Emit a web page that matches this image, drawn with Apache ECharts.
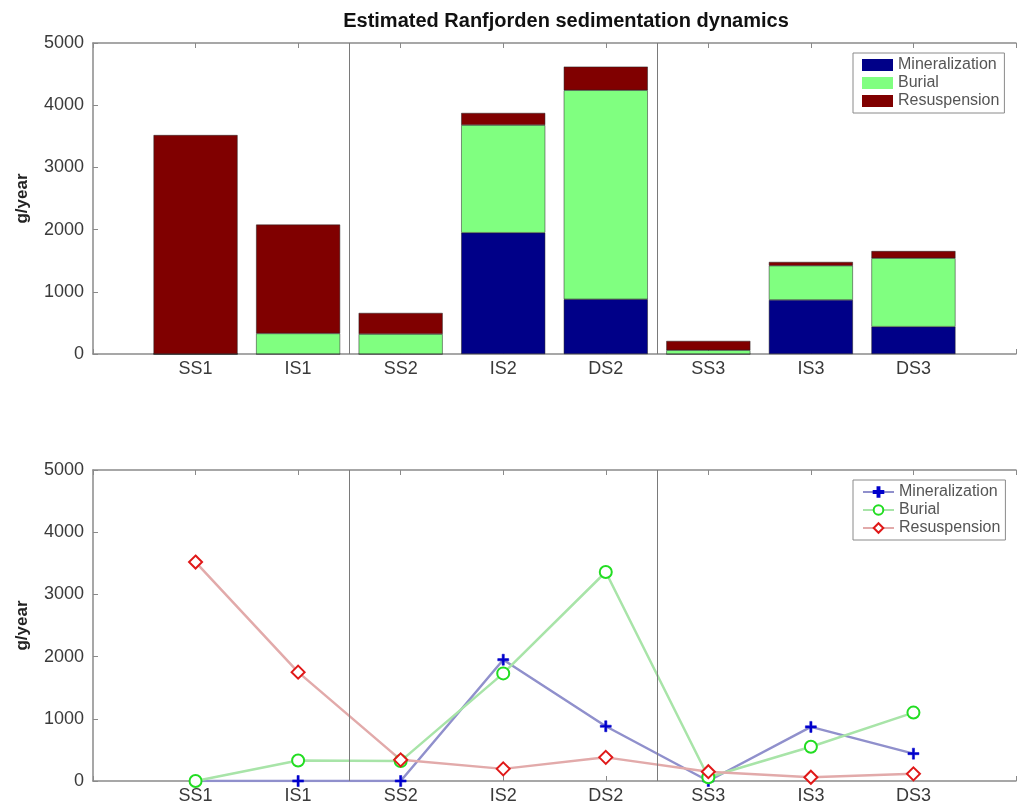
<!DOCTYPE html>
<html>
<head>
<meta charset="utf-8">
<script src="https://cdn.jsdelivr.net/npm/echarts@6/dist/echarts.min.js"></script>
<style>
html,body{margin:0;padding:0;background:#fff;}
#chart{width:1019px;height:811px;}
</style>
</head>
<body>
<div id="chart"></div>
<script>
// ---- data ----
var categories = ['SS1', 'IS1', 'SS2', 'IS2', 'DS2', 'SS3', 'IS3', 'DS3'];
var mineralization = [0, 0, 0, 1950, 880, 0, 870, 440];
var burial = [0, 330, 320, 1730, 3360, 60, 550, 1100];
var resuspension = [3520, 1750, 340, 195, 380, 150, 60, 115];
var seriesNames = ['Mineralization', 'Burial', 'Resuspension'];
var yTicks = [0, 1000, 2000, 3000, 4000, 5000];
var separators = [2.5, 5.5];
var titleText = 'Estimated Ranfjorden sedimentation dynamics';
var yName = 'g/year';

// ---- helpers ----
// MATLAB-style x limits [0, n+1]: pad one empty slot on each side
var cats = [''].concat(categories).concat(['']);
function padded(arr) { return ['-'].concat(arr).concat(['-']); }
var FONT = "'Liberation Sans', Arial, Helvetica, sans-serif";
var axisGrey = '#8a8a8a';
var labelColor = '#3a3a3a';

function xAxisCfg(gridIndex) {
  return {
    type: 'category', gridIndex: gridIndex, data: cats, boundaryGap: false,
    axisLine: { show: true, lineStyle: { color: axisGrey, width: 1.5 } },
    axisTick: { show: true, inside: true, length: 5, interval: 0, lineStyle: { color: axisGrey } },
    splitLine: { show: false },
    axisLabel: { margin: 6, interval: 0, color: labelColor, fontFamily: FONT, fontSize: 18 }
  };
}
function xAxisTop(gridIndex) {
  return {
    type: 'value', gridIndex: gridIndex, position: 'top', min: 0, max: categories.length + 1, interval: 1,
    axisLine: { show: true, lineStyle: { color: axisGrey, width: 1.5 } },
    axisTick: { show: true, inside: true, length: 5, lineStyle: { color: axisGrey } },
    splitLine: { show: false }, axisLabel: { show: false }
  };
}
function yAxisCfg(gridIndex) {
  return {
    type: 'value', gridIndex: gridIndex, min: yTicks[0], max: yTicks[yTicks.length - 1], interval: 1000,
    name: yName, nameLocation: 'middle', nameRotate: 90, nameGap: 62,
    nameTextStyle: { fontFamily: FONT, fontSize: 17, fontWeight: 'bold', color: '#222' },
    axisLine: { show: true, lineStyle: { color: axisGrey, width: 1.5 } },
    axisTick: { show: true, inside: true, length: 5, lineStyle: { color: axisGrey } },
    splitLine: { show: false },
    axisLabel: { margin: 9, color: labelColor, fontFamily: FONT, fontSize: 18,
      formatter: function (v) { return String(v); } }
  };
}
function sepSeries(xAxisIndex, yAxisIndex) {
  return {
    name: 'sep' + xAxisIndex, type: 'line', xAxisIndex: xAxisIndex, yAxisIndex: yAxisIndex,
    data: [], silent: true,
    markLine: {
      silent: true, symbol: 'none', label: { show: false },
      lineStyle: { color: '#7a7a7a', width: 1, type: 'solid' },
      data: separators.map(function (x) { return { xAxis: x }; })
    }
  };
}

var barColors = ['#000088', '#80ff80', '#800000'];
var barData = [mineralization, burial, resuspension];
var lineColors = ['#9090cc', '#a8e4a8', '#e2aaaa'];
var markerColors = ['#0000cc', '#22dd22', '#e01818'];
var symbols = ['path://M4,0h2v4h4v2h-4v4h-2v-4h-4v-2h4z', 'emptyCircle', 'emptyDiamond'];
var symbolSizes = [11, 12, 13];

var series = [];
barData.forEach(function (arr, k) {
  series.push({
    name: seriesNames[k], type: 'bar', xAxisIndex: 0, yAxisIndex: 0, stack: 'total',
    barWidth: 84, data: padded(arr),
    itemStyle: { color: barColors[k], borderColor: '#222', borderWidth: 0.5 }
  });
});
series.push(sepSeries(1, 0));
barData.forEach(function (arr, k) {
  series.push({
    name: seriesNames[k] + '#2', type: 'line', xAxisIndex: 2, yAxisIndex: 1,
    data: padded(arr), symbol: symbols[k], symbolSize: symbolSizes[k],
    lineStyle: { color: lineColors[k], width: 2.5 },
    itemStyle: { color: markerColors[k], borderColor: markerColors[k], borderWidth: k === 0 ? 0.5 : 3.5 }
  });
});
series.push(sepSeries(3, 1));

var legendBase = {
  orient: 'vertical', left: 853, borderColor: '#8a8a8a', borderWidth: 1, backgroundColor: '#fff',
  padding: [4, 5, 4, 9], itemGap: 2, itemWidth: 31, itemHeight: 12,
  textStyle: { fontFamily: FONT, fontSize: 16, color: '#555' },
  selectedMode: false
};

var option = {
  animation: false,
  backgroundColor: '#fff',
  title: {
    text: titleText, left: 561, top: 6, textAlign: 'center',
    textStyle: { fontFamily: FONT, fontSize: 20, fontWeight: 'bold', color: '#111' }
  },
  grid: [
    { left: 93, top: 43, width: 937, height: 311 },
    { left: 93, top: 470, width: 937, height: 311 }
  ],
  xAxis: [xAxisCfg(0), xAxisTop(0), xAxisCfg(1), xAxisTop(1)],
  yAxis: [yAxisCfg(0), yAxisCfg(1)],
  legend: [
    Object.assign({}, legendBase, {
      top: 53,
      data: seriesNames.map(function (n) { return { name: n, icon: 'rect', itemStyle: { borderWidth: 0 } }; })
    }),
    Object.assign({}, legendBase, {
      top: 480, data: seriesNames.map(function (n) { return n + '#2'; }),
      formatter: function (n) { return n.split('#')[0]; }
    })
  ],
  series: series
};

var chart = echarts.init(document.getElementById('chart'), null, { renderer: 'canvas' });
chart.setOption(option);
</script>
</body>
</html>
